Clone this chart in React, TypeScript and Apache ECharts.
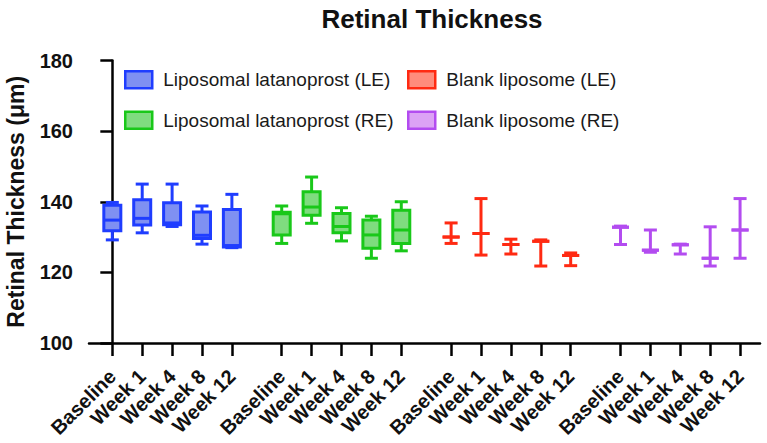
import React, { useEffect, useRef } from 'react';
import * as echarts from 'echarts';

// ---- data ----
const weeks = ['Baseline', 'Week 1', 'Week 4', 'Week 8', 'Week 12'];
const seriesNames = [
  'Liposomal latanoprost (LE)',
  'Liposomal latanoprost (RE)',
  'Blank liposome (LE)',
  'Blank liposome (RE)',
];
const yTicks = [100, 120, 140, 160, 180];
// each entry: [min, Q1, median, Q3, max]
const lipoLE = [
  [129.2, 131.8, 134.8, 139.0, 139.8],
  [131.2, 133.4, 135.3, 140.6, 145.0],
  [133.0, 133.5, 134.0, 139.7, 145.0],
  [128.0, 129.6, 130.5, 137.1, 138.8],
  [127.0, 127.2, 127.6, 137.8, 142.1],
];
const lipoRE = [
  [128.2, 130.6, 136.6, 137.0, 138.8],
  [133.9, 136.2, 138.5, 142.8, 147.0],
  [128.9, 131.2, 133.0, 136.7, 138.3],
  [124.0, 126.8, 130.6, 134.8, 135.9],
  [126.1, 128.2, 132.0, 137.6, 140.0],
];
const blankLE = [
  [128.2, 130.0, 130.0, 130.0, 134.0],
  [124.9, 131.0, 131.0, 131.0, 140.9],
  [125.2, 127.9, 127.9, 127.9, 129.4],
  [121.8, 128.8, 128.8, 128.8, 129.2],
  [121.9, 124.8, 124.8, 124.8, 125.5],
];
const blankRE = [
  [127.9, 132.8, 132.8, 132.8, 133.1],
  [125.7, 126.3, 126.3, 126.3, 132.0],
  [125.2, 127.8, 127.8, 127.8, 128.0],
  [121.8, 124.0, 124.0, 124.0, 132.9],
  [124.0, 132.0, 132.0, 132.0, 140.9],
];
const allData = [lipoLE, lipoRE, blankLE, blankRE];

// ---- styles ----
const strokes = ['#1f3dff', '#19c819', '#ff2a12', '#b34cf0'];
const fills = ['#7f90f2', '#7fdc7f', '#ff8c7c', '#dca2f5'];
const FONT = "'Liberation Sans', Arial, Helvetica, sans-serif";

// layout: x position of each category on a hidden value scale
const GROUP_STEP = 17;
const WEEK_STEP = 3;
const posOf = (g: number, w: number) => g * GROUP_STEP + w * WEEK_STEP;

export default function App() {
  const ref = useRef<HTMLDivElement>(null);

  useEffect(() => {
    if (!ref.current) return;
    const chart = echarts.init(ref.current, undefined, { renderer: 'svg' });

    const positions: number[] = [];
    const labelAt: Record<string, string> = {};
    allData.forEach((_, g) =>
      weeks.forEach((wk, w) => {
        const p = posOf(g, w);
        positions.push(p);
        labelAt[String(p)] = wk;
      })
    );

    const makeRender = (g: number) => (params: any, api: any) => {
      const x = api.value(0);
      const ys = [1, 2, 3, 4, 5].map((i) => api.coord([x, api.value(i)])[1]);
      const cx = api.coord([x, 100])[0];
      const [yMin, yQ1, yMed, yQ3, yMax] = ys;
      const stroke = strokes[g];
      const fill = fills[g];
      const lw = 3;
      const bw = 17;
      const cw = 13;
      return {
        type: 'group',
        children: [
          { type: 'line', shape: { x1: cx, y1: yMin, x2: cx, y2: yMax }, style: { stroke, lineWidth: lw } },
          { type: 'line', shape: { x1: cx - cw / 2, y1: yMin, x2: cx + cw / 2, y2: yMin }, style: { stroke, lineWidth: lw } },
          { type: 'line', shape: { x1: cx - cw / 2, y1: yMax, x2: cx + cw / 2, y2: yMax }, style: { stroke, lineWidth: lw } },
          {
            type: 'rect',
            shape: { x: cx - bw / 2, y: yQ3, width: bw, height: yQ1 - yQ3 },
            style: { fill, stroke, lineWidth: lw },
          },
          { type: 'line', shape: { x1: cx - bw / 2, y1: yMed, x2: cx + bw / 2, y2: yMed }, style: { stroke, lineWidth: lw } },
        ],
      };
    };

    const series = allData.map((vals, g) => ({
      type: 'custom',
      name: seriesNames[g],
      renderItem: makeRender(g),
      itemStyle: { color: fills[g], borderColor: strokes[g], borderWidth: 2.5 },
      encode: { x: 0, y: [1, 2, 3, 4, 5] },
      data: vals.map((v, w) => [posOf(g, w), ...v]),
    }));

    const legendItem = (i: number) => ({
      name: seriesNames[i],
      itemStyle: { color: fills[i], borderColor: strokes[i], borderWidth: 2.5 },
    });

    const legendCommon = {
      orient: 'vertical',
      top: 70,
      padding: 0,
      itemWidth: 27,
      itemHeight: 17,
      itemGap: 21,
      icon: 'rect',
      selectedMode: false,
      textStyle: { fontSize: 19, color: '#1a1a1a', fontFamily: FONT, padding: [0, 0, 0, 6] },
    };

    chart.setOption({
      animation: false,
      backgroundColor: '#ffffff',
      textStyle: { fontFamily: FONT },
      title: {
        text: 'Retinal Thickness',
        left: 427,
        textAlign: 'center',
        top: 1,
        textStyle: { fontSize: 26, fontWeight: 'bold', color: '#111', fontFamily: FONT },
      },
      legend: [
        { ...legendCommon, left: 124, data: [legendItem(0), legendItem(1)] },
        { ...legendCommon, left: 407, data: [legendItem(2), legendItem(3)] },
      ],
      grid: { left: 89, right: 7, top: 60.5, bottom: 100, outerBoundsMode: 'none', containLabel: false },
      xAxis: {
        type: 'value',
        min: -2.34,
        max: 65,
        splitLine: { show: false },
        axisLine: { show: true, onZero: false, lineStyle: { color: '#000', width: 2.5 } },
        axisTick: {
          show: true,
          customValues: positions,
          length: 13,
          lineStyle: { color: '#000', width: 2.5 },
        },
        axisLabel: {
          show: true,
          customValues: positions,
          rotate: 45,
          margin: 30,
          fontSize: 20,
          fontWeight: 'bold',
          color: '#111',
          fontFamily: FONT,
          formatter: (v: number) => labelAt[String(v)] ?? '',
        },
      },
      yAxis: {
        type: 'value',
        min: yTicks[0],
        max: yTicks[yTicks.length - 1],
        interval: 20,
        name: 'Retinal Thickness (μm)',
        nameLocation: 'middle',
        nameGap: 62,
        nameTextStyle: { fontSize: 23, fontWeight: 'bold', color: '#111', fontFamily: FONT },
        splitLine: { show: false },
        axisLine: { show: true, lineStyle: { color: '#000', width: 2.5 } },
        axisTick: { show: true, length: 12, lineStyle: { color: '#000', width: 2.5 } },
        axisLabel: { fontSize: 20, fontWeight: 'bold', color: '#111', margin: 16, fontFamily: FONT },
      },
      series,
    });

    return () => chart.dispose();
  }, []);

  return (
    <div
      ref={ref}
      style={{ position: 'fixed', left: 0, top: 0, width: 767, height: 443 }}
    />
  );
}
